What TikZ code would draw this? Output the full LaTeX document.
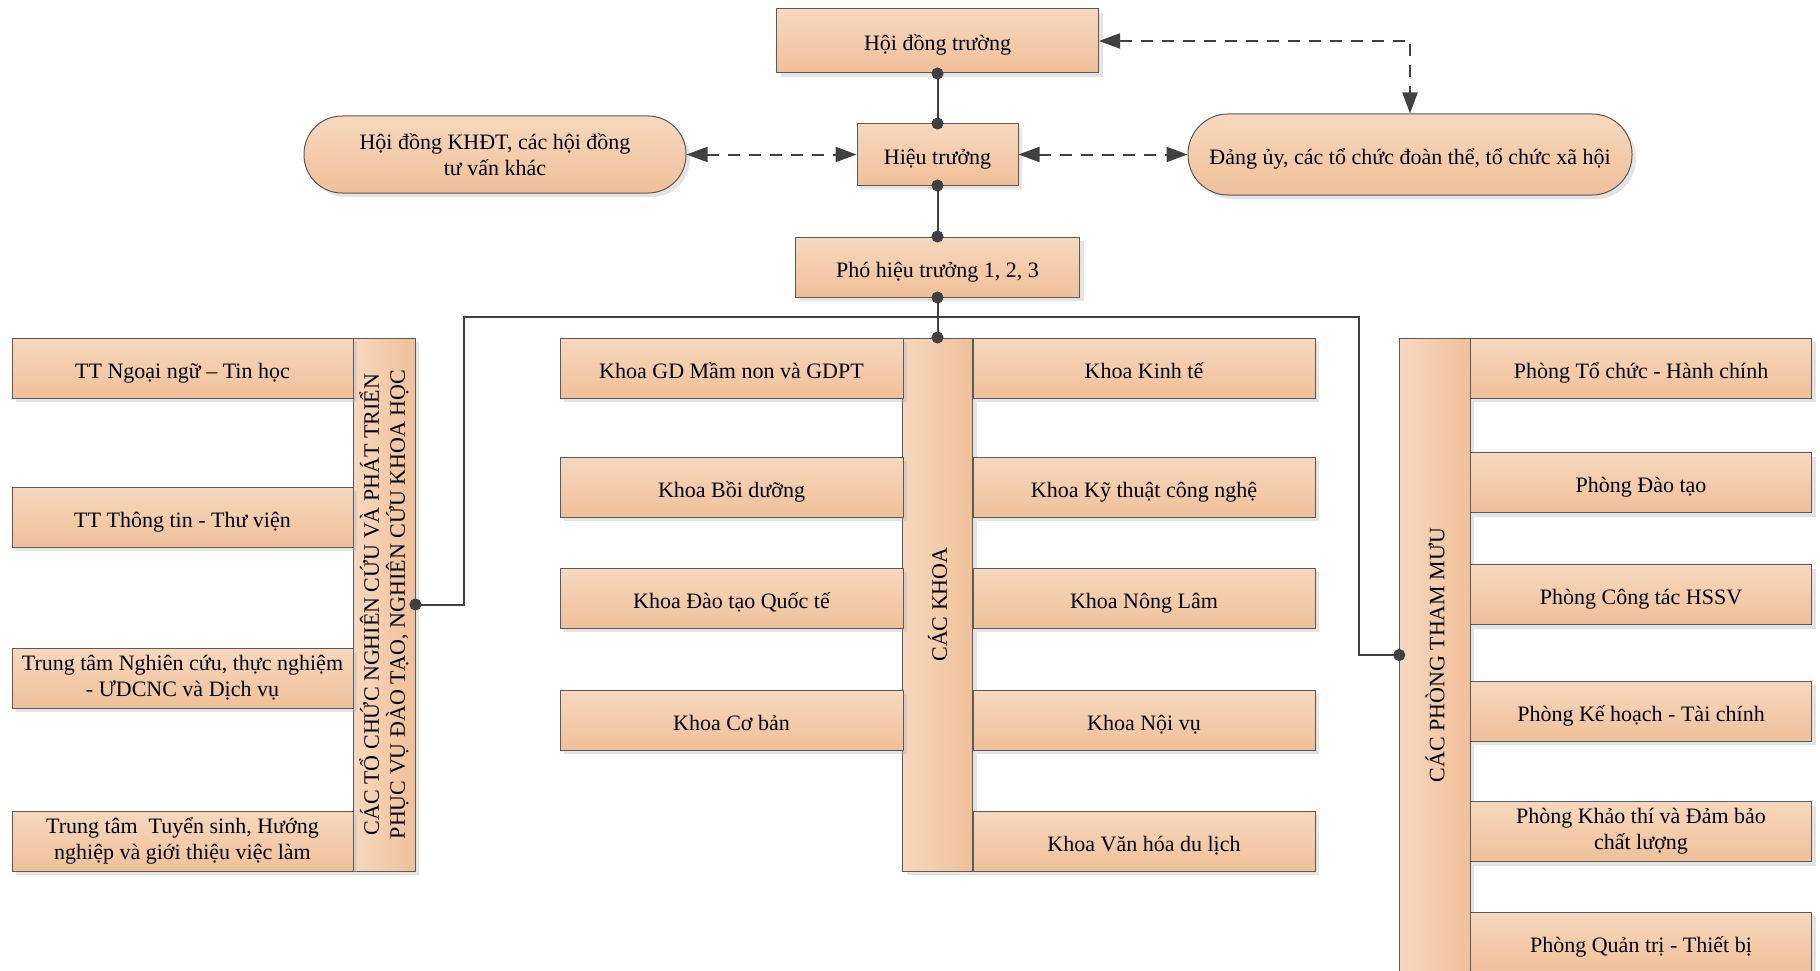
\documentclass[tikz,border=0pt]{standalone}
\usepackage{fontspec}
\setmainfont{Liberation Serif}
\usetikzlibrary{arrows.meta,shadows}

\definecolor{boxtop}{HTML}{F7D8BE}
\definecolor{boxbot}{HTML}{EFC09A}
\definecolor{boxline}{HTML}{5A5A5A}
\definecolor{linkgray}{HTML}{404040}
\newcommand\boxfont{\fontsize{22}{26}\selectfont}

\begin{document}
\begin{tikzpicture}[x=1pt, y=-1pt,
        unit/.style={draw=boxline, line width=1pt, rectangle, top color=boxtop, bottom color=boxbot,
            inner sep=2pt, align=center, font=\boxfont, text height=21pt, text depth=1pt,
            drop shadow={shadow xshift=4pt, shadow yshift=-4pt, fill=black!30, opacity=0.35}},
        twoline/.style={text height=, text depth=},
        pill/.style={unit, rounded corners=38pt},
        vbar/.style={unit, left color=boxtop, right color=boxbot},
        vtext/.style={rotate=90, align=center, font=\boxfont, inner sep=0pt},
        link/.style={draw=linkgray, line width=2pt, {Circle[length=12pt]}-{Circle[length=12pt]},
            shorten <=-6pt, shorten >=-6pt},
        dlink/.style={draw=linkgray, line width=2pt, dash pattern=on 12pt off 9pt,
            {Triangle[length=21pt,width=15pt]}-{Triangle[length=21pt,width=15pt]}}
    ]
    \useasboundingbox (0,0) rectangle (1820,971);

    % Top level
    \node[unit, minimum width=322pt, minimum height=64pt] (hdt) at (937.5,41) {Hội đồng trường};
    \node[unit, minimum width=161pt, minimum height=61pt] (ht) at (937.5,154.5) {Hiệu trưởng};
    \node[pill, twoline, minimum width=382pt, minimum height=77pt] (khdt) at (495,154.5) {Hội đồng KHĐT, các hội đồng\\tư vấn khác};
    \node[pill, rounded corners=40pt, minimum width=444pt, minimum height=81pt] (dangu) at (1410,154.5) {Đảng ủy, các tổ chức đoàn thể, tổ chức xã hội};
    \node[unit, minimum width=284pt, minimum height=60pt] (pht) at (937.5,267) {Phó hiệu trưởng 1, 2, 3};

    % Research and service units
    \node[vbar, minimum width=62pt, minimum height=533pt] (lbar) at (384,604.5) {};
    \node[vtext] (lbartext) at (lbar.center) {CÁC TỔ CHỨC NGHIÊN CỨU VÀ PHÁT TRIỂN\\PHỤC VỤ ĐÀO TẠO, NGHIÊN CỨU KHOA HỌC};
    \node[unit, minimum width=341pt, minimum height=60pt] (tt1) at (182.5,368) {TT Ngoại ngữ – Tin học};
    \node[unit, minimum width=341pt, minimum height=60pt] (tt2) at (182.5,517) {TT Thông tin - Thư viện};
    \node[unit, twoline, minimum width=341pt, minimum height=60pt] (tt3) at (182.5,678) {Trung tâm Nghiên cứu, thực nghiệm\\- ƯDCNC và Dịch vụ};
    \node[unit, twoline, minimum width=341pt, minimum height=60pt] (tt4) at (182.5,841) {Trung tâm~ Tuyển sinh, Hướng\\nghiệp và giới thiệu việc làm};

    % Faculties
    \node[vbar, minimum width=70pt, minimum height=533pt] (cbar) at (937.5,604.5) {};
    \node[vtext] (cbartext) at (cbar.center) {CÁC KHOA};
    \node[unit, minimum width=343pt, minimum height=60pt] (k1) at (731.5,368) {Khoa GD Mầm non và GDPT};
    \node[unit, minimum width=343pt, minimum height=60pt] (k2) at (731.5,487) {Khoa Bồi dưỡng};
    \node[unit, minimum width=343pt, minimum height=60pt] (k3) at (731.5,598) {Khoa Đào tạo Quốc tế};
    \node[unit, minimum width=343pt, minimum height=60pt] (k4) at (731.5,720) {Khoa Cơ bản};
    \node[unit, minimum width=342pt, minimum height=60pt] (k5) at (1144,368) {Khoa Kinh tế};
    \node[unit, minimum width=342pt, minimum height=60pt] (k6) at (1144,487) {Khoa Kỹ thuật công nghệ};
    \node[unit, minimum width=342pt, minimum height=60pt] (k7) at (1144,598) {Khoa Nông Lâm};
    \node[unit, minimum width=342pt, minimum height=60pt] (k8) at (1144,720) {Khoa Nội vụ};
    \node[unit, minimum width=342pt, minimum height=60pt] (k9) at (1144,841) {Khoa Văn hóa du lịch};

    % Staff offices
    \node[vbar, minimum width=70.5pt, minimum height=634pt] (pbar) at (1435,655) {};
    \node[vtext] (pbartext) at (pbar.center) {CÁC PHÒNG THAM MƯU};
    \node[unit, minimum width=341.5pt, minimum height=60pt] (p1) at (1641,368) {Phòng Tổ chức - Hành chính};
    \node[unit, minimum width=341.5pt, minimum height=60pt] (p2) at (1641,482.5) {Phòng Đào tạo};
    \node[unit, minimum width=341.5pt, minimum height=60pt] (p3) at (1641,594.5) {Phòng Công tác HSSV};
    \node[unit, minimum width=341.5pt, minimum height=60pt] (p4) at (1641,711) {Phòng Kế hoạch - Tài chính};
    \node[unit, twoline, minimum width=341.5pt, minimum height=60pt] (p5) at (1641,831.5) {Phòng Khảo thí và Đảm bảo\\chất lượng};
    \node[unit, minimum width=341.5pt, minimum height=60pt] (p6) at (1641,942) {Phòng Quản trị - Thiết bị};

    % Solid links
    \draw[link] (hdt.south) -- (ht.north);
    \draw[link] (ht.south) -- (pht.north);
    \draw[link] (pht.south) -- (cbar.north);
    \coordinate (busL) at (464,317);
    \coordinate (busR) at (1359,317);
    \draw[link] (lbar.east) -| (busL) -- (busR) |- (pbar.west);

    % Dashed links
    \draw[dlink] (khdt.east) -- (ht.west);
    \draw[dlink] (ht.east) -- (dangu.west);
    \draw[dlink] (hdt.east) -| (dangu.north);

\end{tikzpicture}
\end{document}
